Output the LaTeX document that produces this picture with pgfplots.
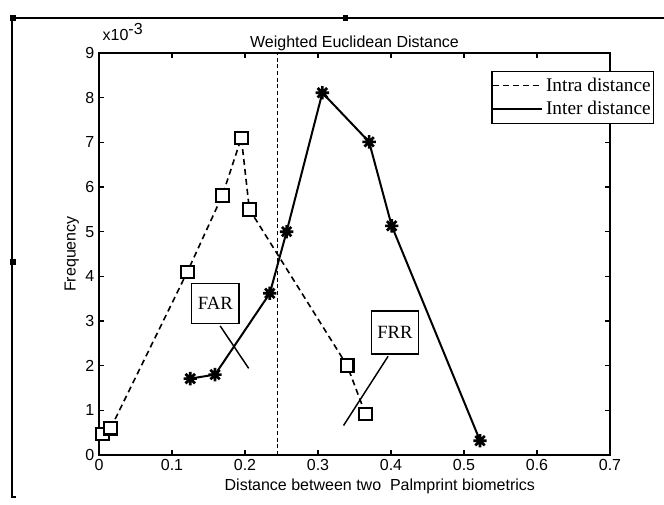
\documentclass[border=0pt]{standalone}
\usepackage{pgfplots}
\pgfplotsset{compat=1.18}
\usepackage{fontspec}
\setmainfont{Liberation Sans}
\newfontfamily\serifface{Liberation Serif}

% eight-armed asterisk marker
\pgfdeclareplotmark{ast8}{%
  \pgfpathmoveto{\pgfpointpolar{0}{\pgfplotmarksize}}\pgfpathlineto{\pgfpointpolar{180}{\pgfplotmarksize}}%
  \pgfpathmoveto{\pgfpointpolar{90}{\pgfplotmarksize}}\pgfpathlineto{\pgfpointpolar{270}{\pgfplotmarksize}}%
  \pgfpathmoveto{\pgfpointpolar{45}{\pgfplotmarksize}}\pgfpathlineto{\pgfpointpolar{225}{\pgfplotmarksize}}%
  \pgfpathmoveto{\pgfpointpolar{135}{\pgfplotmarksize}}\pgfpathlineto{\pgfpointpolar{315}{\pgfplotmarksize}}%
  \pgfusepathqstroke}

\pgfplotstableread{
x      y
0.005  0.47
0.016  0.60
0.121  4.10
0.169  5.81
0.195  7.10
0.206  5.50
0.340  2.00
0.365  0.92
}\intra

\pgfplotstableread{
x      y
0.125  1.71
0.159  1.80
0.234  3.62
0.257  5.00
0.306  8.11
0.370  7.01
0.401  5.13
0.522  0.32
}\inter

\begin{document}
\begin{tikzpicture}
% page frame, in pixel units measured from the top-left corner
\begin{scope}[x=0.75pt,y=-0.75pt]
  \path[use as bounding box] (0,0) rectangle (664,505);
  \draw[line width=1.1pt] (664,18) -- (12,18) -- (12,497) -- (16,497);
  \fill (9.5,15.5) rectangle (15.5,21.5);
  \fill (343,15.5) rectangle (348,21.5);
  \fill (10,259) rectangle (16,265);
  \node[font=\fontsize{12}{14}\selectfont] at (354.5,43) {Weighted Euclidean Distance};
  \node[font=\fontsize{12}{14}\selectfont] at (123,32) {x10$^{\textrm{-3}}$};
\end{scope}

\begin{axis}[
  at={(74.25pt,-341.25pt)}, anchor=south west,
  scale only axis, width=383.25pt, height=301.5pt,
  xmin=0, xmax=0.7, ymin=0, ymax=9,
  xtick={0,0.1,0.2,0.3,0.4,0.5,0.6,0.7},
  xticklabels={0,0.1,0.2,0.3,0.4,0.5,0.6,0.7},
  ytick={0,1,2,3,4,5,6,7,8,9},
  tick align=inside, major tick length=3.75pt,
  axis line style={line width=1.1pt},
  every tick/.style={black, line width=0.8pt},
  tick label style={font=\fontsize{12}{14}\selectfont},
  /pgf/number format/assume math mode=true,
  xlabel={Distance between two\ \ Palmprint biometrics},
  xlabel style={font=\fontsize{12}{14}\selectfont, xshift=19pt, yshift=1pt},
  ylabel={Frequency},
  ylabel style={font=\fontsize{12}{14}\selectfont, yshift=-2pt},
  legend style={at={(0.768,0.956)}, anchor=north west, draw=black, line width=0.9pt,
    font=\serifface\fontsize{14.5}{16}\selectfont, inner xsep=0pt, inner ysep=3pt,
    row sep=2pt, cells={anchor=west}},
  legend image code/.code={\draw[#1,mark=none] (0pt,0pt) -- (37pt,0pt);},
  clip=false,
]
% threshold between the two distributions
\addplot[black, line width=0.8pt, dash pattern=on 3pt off 2pt, forget plot]
  coordinates {(0.245,0) (0.245,9)};
\addplot[black, line width=1.2pt, dash pattern=on 4.5pt off 3pt,
  mark=square*, mark size=4.7pt,
  mark options={solid, fill=white, line width=1.6pt}] table[x=x,y=y] {\intra};
\addlegendentry{Intra distance}
\addplot[black, line width=1.5pt, mark=ast8, mark size=5pt,
  mark options={line width=2pt}] table[x=x,y=y] {\inter};
\addlegendentry{Inter distance}

% error-rate callouts
\draw[line width=1.1pt] (axis cs:0.166,2.89) -- (axis cs:0.205,1.94);
\draw[line width=1.1pt, fill=white] (axis cs:0.127,3.84) rectangle (axis cs:0.192,2.95);
\node[font=\serifface\fontsize{14}{16}\selectfont] at (axis cs:0.1595,3.395) {FAR};
\draw[line width=1.1pt] (axis cs:0.396,2.21) -- (axis cs:0.335,0.66);
\draw[line width=1.1pt, fill=white] (axis cs:0.373,3.22) rectangle (axis cs:0.438,2.26);
\node[font=\serifface\fontsize{14}{16}\selectfont] at (axis cs:0.4055,2.74) {FRR};
\end{axis}
\end{tikzpicture}
\end{document}
